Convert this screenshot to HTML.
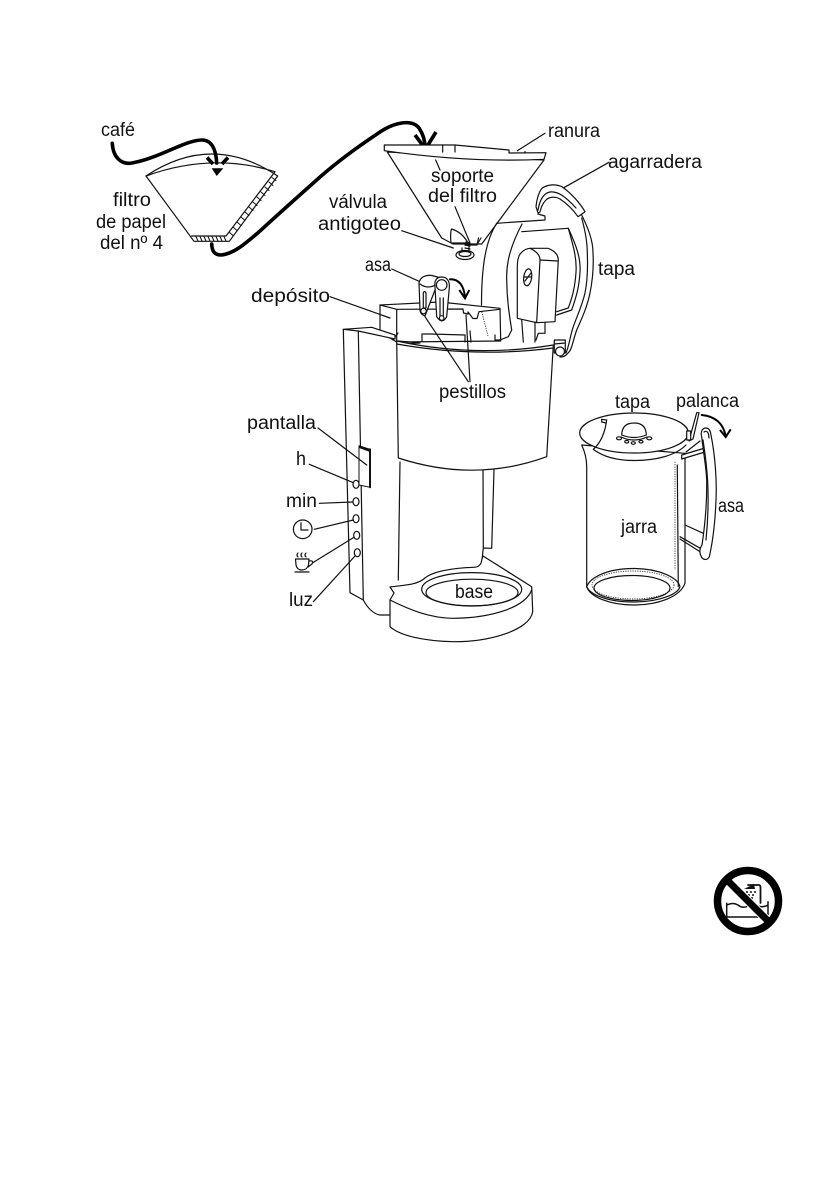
<!DOCTYPE html>
<html><head><meta charset="utf-8"><style>
html,body{margin:0;padding:0;background:#fff}
svg{display:block}
text{font-family:"Liberation Sans",sans-serif;font-size:19px;fill:#111}
.l{fill:none;stroke:#111;stroke-width:1.2;stroke-linejoin:round;stroke-linecap:round}
.w{fill:#fff;stroke:#111;stroke-width:1.2;stroke-linejoin:round}
.t{stroke-width:3.6;fill:none;stroke:#000;stroke-linecap:round;stroke-linejoin:miter}
.d{fill:none;stroke:#333;stroke-width:.9;stroke-dasharray:1.2 1.2}
</style></head><body>
<svg width="840" height="1192" viewBox="0 0 840 1192" xmlns="http://www.w3.org/2000/svg">
<rect width="840" height="1192" fill="#fff"/>

<!-- paper filter -->
<path class="w" d="M146 176Q212 132 277.700 176L229.300 241.300L194 241.300Z"/>
<path class="l" d="M146 176Q212 152 275 171.700M191.700 236L226 236L275 171.700"/>
<g class="l" style="stroke-width:1">
<path d="M196 236.500L198 241M200 236.500L202 241M204 236.500L206 241M208 236.500L210 241M212 236.500L214 241M216 236.500L218 241M220 236.500L222 241M224 236.500L226 241"/>
<path d="M229 232L233 235.500M233 227L237 230.500M237 222L241 225.500M241 217L245 220.500M245 212L249 215.500M249 207L253 210.500M253 202L257 205.500M257 197L261 200.500M261 192L265 195.500M265 187L269 190.500M269 182L273 185.500M272 177.500L276 180.500"/>
</g>
<path d="M211.700 168.300L223.300 168.300L216.700 176Z" fill="#000"/>
<path class="t" style="stroke-linecap:butt" d="M207 157.500L213 164M228 157.500L222 164"/>
<path class="t" d="M112.300 143.300C113 157 121 165 132 163C160 158 185 140 202 140C212 140 216 150 216.700 163"/>
<path class="t" d="M211.700 244C212 252 215 255 221 255C234 254 246 243 260 231C285 208 300 195 320 177C345 155 368 140 380 132C395 122 412 119 419 128C423 134 425 141 425 147"/>
<path class="t" style="stroke-linecap:butt" d="M415 135L425.500 149L436 132"/>

<!-- filter holder -->
<path class="w" d="M387.300 152L441.700 238L453 244L481.700 244L544 160Z"/>
<path class="w" d="M384.300 145L455 145L509 150L509 153L546 152.700L544 159.300Q470 163 384.300 150.700Z"/>
<path class="l" d="M442.700 145L442.700 152M455 145L455 152M525 151.500L525 153"/>
<path class="w" d="M451 243Q450 233 451.500 229Q462 232 468 243Z"/>
<path class="l" d="M465 245L477 245M477 245L478.500 238M478 243L481 238"/>
<path class="l" d="M466 242L470 243M465 245L470 246M465 248L470 249"/>
<ellipse class="w" cx="465" cy="255" rx="9" ry="4.500"/>
<ellipse class="l" cx="465" cy="254" rx="6" ry="2.500"/>
<path class="l" d="M462 248L462 252M469 246L469 252"/>
<path class="l" d="M435.700 160L440 170M455 206.700L470 243M401.700 230.700L453.300 248M545 133.300L517.300 150.700M609 162.300L562.700 188.300M391.700 269L420 281.700"/>

<!-- lid (tapa) -->
<path class="l" d="M496.700 223.300L545 220L545 216L538 214"/>
<path class="l" d="M496.700 223.300C486 240 481.500 265 481.500 305"/>
<path class="l" d="M522 224C511 245 506 262 506.700 280C507 300 509 313 511.700 330L508.300 336.700L500 340"/>
<path class="l" d="M521.700 231.700L568.300 228.300C576 245 581 258 580 272C579 290 575 300 571.700 310L556.700 315"/>
<path class="l" d="M568.300 228.300C573 245 577 258 576 272C575 288 572 298 568.300 308L556.700 311.700"/>
<path class="w" d="M517.300 318.300L517.300 266.700Q517.500 256 521 253Q525 248.300 531 248.300L548 248.300Q558 252 558.300 260L555 321.700L536.700 322.700Z"/>
<path class="l" d="M536.700 322L540 260Q540 253 530 248.300M540 260L558 261"/>
<ellipse class="l" cx="527.700" cy="277.300" rx="4" ry="8.500" transform="rotate(8 527.700 277.300)"/>
<path class="l" d="M525 281L531 273M524 277L531 277"/>
<path class="l" d="M521.700 320L523.300 342M535 322L535 342M545 322.700L545 333.300L538.300 333.300L536 340"/>
<path class="w" d="M536 206.700C537 198 539 192 542 188.300C548 184 556 184 562 186.700C571 193 580 203 585 211.700L578 216.700C572 208 566 203 560 199C555 196 549 197 546 200C542 204 541 208 540 212L538 213Z"/>
<path class="l" d="M538 210C540 199 544 193 550 192C558 191 566 197 576 208"/>
<path class="l" d="M581.700 215C588 228 593 240 593 253C594 270 592 283 590 293C587 308 581 320 576.700 330C573 340 572 350 568 353C565 357 562 357 560 357"/>
<path class="l" d="M581.700 218C585 230 587.300 242 587.300 253C588 270 587 283 585 293C582 306 577 316 573.300 326.700C570 336 569 347 566 352.700"/>
<rect class="w" x="554.300" y="340" width="11" height="13"/>
<circle class="w" cx="560" cy="351.500" r="4.500"/>
<path class="l" d="M554.300 344L565 343"/>

<!-- tank -->
<path class="w" d="M380 305L440 302L500 308.300L500.700 341L396.700 342L380 332Z"/>
<path class="l" d="M380 305L396.700 309.300L396.700 341M396.700 309.300L463 309L463.500 313L468 314L468 312L473 318.500L477 318.500L479 311.700L500 309.300"/>
<path class="d" d="M481.700 311.700L488 336"/>
<path class="l" d="M393 340L398 333M422 334L422 341M430 334L465 335L465 342M470 331L471 342M423 334L430 334M495 335L495 340L500 340"/>
<path class="w" d="M398 341L420 343L398 344Z"/>

<!-- body left column -->
<path class="w" d="M343.300 329.300L371.700 327.300L395 335L395 339L358.300 331L363.300 600L350 592.700Z"/>
<path class="l" d="M343.300 329.300L358.300 331"/>
<path class="l" d="M363.300 600C367 607 373 614 380 615L390 615"/>

<!-- pedestal and back -->
<path class="l" d="M400 462L398.300 580M483 469L483.300 548L491.700 548.300L494 469.300M483.300 548L482 560"/>

<!-- cup -->
<path class="w" d="M396.700 341Q475 358 553.300 345L546.700 456.700Q475 483 398.300 458Z"/>
<path class="l" d="M396.700 344Q475 358 553.300 348"/>

<!-- base -->
<path class="w" d="M390 587C405 585 417 585 425 578C432 572 450 568 474 567.300Q481 567 481.700 560L483 556L531.700 586.700L532.700 611.700C530 630 490 642 453 641.700C425 641 400 636 390 626.700L390 600L394 593Z"/>
<path class="l" d="M390 600C410 610 430 618 453 618.300C490 618 525 608 531.700 590"/>
<ellipse class="l" cx="471.700" cy="589.300" rx="50" ry="16.700"/>
<ellipse class="l" cx="472" cy="592.500" rx="46" ry="13.300"/>

<!-- pointer lines -->
<path class="l" d="M425 316.700L468.300 381.700M466 315L470 381.700M330 296.700L390 318"/>

<!-- lever handles -->
<path class="w" d="M419 283C420 277 426 274.500 432 275.500L441 278L435 290L428 308L425 316Q420 314 420 310Z"/>
<path class="l" d="M420 284Q428 290 437 284"/>
<path class="l" d="M423.300 293L423.300 308L426 308L426 293Q424.500 290 423.300 293Z"/>
<circle class="l" cx="423.500" cy="311" r="2.800"/>
<path class="w" d="M435 287C434 280 437 277 441.700 277C447 277 450 281 449.300 288L446.700 316.700Q442 325 436.700 316.700Z"/>
<circle class="l" cx="441.700" cy="285" r="5.300"/>
<path class="l" d="M440 298L440 316M443.300 298L443.300 316"/>
<circle class="l" cx="441.700" cy="318" r="2.300"/>
<path class="t" style="stroke-width:2" d="M450 279.300Q463 279 465 297"/>
<path class="t" style="stroke-width:2;stroke-linecap:butt" d="M459.300 290L465 298.300L469.300 290"/>

<!-- buttons and display -->
<path class="w" d="M359 445.700L370 449.300L370 487.300L359 485Z" style="stroke-width:1"/>
<path d="M359 445.700L370 449.300L370 452L359 448Z" fill="#111"/>
<path class="l" style="stroke-width:2" d="M370 449.300L370 487.300"/>
<ellipse class="l" cx="356" cy="484.300" rx="3" ry="4"/>
<ellipse class="l" cx="356" cy="501.700" rx="3" ry="4"/>
<ellipse class="l" cx="356" cy="518.700" rx="3" ry="4"/>
<ellipse class="l" cx="356.700" cy="535.300" rx="3" ry="4"/>
<ellipse class="l" cx="357.300" cy="552.700" rx="3" ry="4"/>
<path class="l" d="M318 428L366.700 465M309.300 464.300L353.300 482.700M319.300 503.300L352.700 502M314.300 529.300L353.300 520M312.700 562.700L354 537.300M313.300 601.700L355 556"/>
<circle class="l" cx="302.700" cy="529.300" r="9.300"/>
<path class="l" d="M301 522.700L301 530L308 530"/>
<path class="l" d="M295.500 559L309 559L308.500 565Q307 570 302 570Q297 570 296 565ZM309 561Q314 560 312 564L308 567M295 572L309 572M298 553Q296 555 298 557M302 553Q300 555 302 557M306 553Q304 555 306 557"/>

<!-- jug -->
<path class="w" d="M581.700 445C585 452 586.700 458 586.700 467L586.700 586.700C590 597 610 605 633.300 605C658 605 680 597 685 583.300L685 453.300Z"/>
<path class="l" d="M677.300 465L678.300 586.700"/>
<path class="d" d="M675 461.700L675 570"/>
<path class="l" d="M586.700 586.700C590 578 606 568.500 633.300 568.500C660 568.500 678 578 680 586.700C678 594 660 602 633.300 602C606 602 590 594 586.700 586.700Z"/>
<ellipse class="d" cx="633" cy="585" rx="41" ry="14"/>
<ellipse class="l" cx="632" cy="588" rx="38" ry="12.500"/>
<path class="w" d="M681.700 455L708.300 447L708.300 451L681.700 459Z"/>
<path class="l" d="M685 525L703.300 533.300M680 536.700L702 549.300M680 539L702 553"/>
<path class="w" d="M701.700 436.700C700 431 703 428 706 428C709 428 710.500 431 711 435C715 455 717 480 716 500C715 525 712 545 709.300 556.700C708 560 703 561 701 556C699 552 700 548 702 545C705 525 707 500 706.700 480C706 465 703 450 701.700 436.700Z"/>
<path class="l" d="M704 432Q707 430 708.500 434L709 438M703 440C706 460 711 490 706 540"/>
<ellipse class="w" cx="634" cy="433" rx="54.300" ry="20"/>
<path class="l" d="M593.500 449.500C605 458 620 460.500 634 460.500C655 460.500 675 456 686 445"/>
<path class="l" d="M601.700 419.300L606.700 420Q604 440 593.300 449.300"/>
<path class="l" d="M601.700 419.300L601.700 422L606 423"/>
<path class="w" d="M621.700 435Q622 423 634 423Q646 423 646.300 435Q634 440 621.700 435Z"/>
<path class="l" d="M621 437Q634 443 647 437"/>
<ellipse class="l" cx="619" cy="438.300" rx="2.500" ry="1.500"/>
<ellipse class="l" cx="649.300" cy="438.300" rx="2.500" ry="1.500"/>
<ellipse class="l" cx="626.700" cy="441.700" rx="2" ry="1.300"/>
<ellipse class="l" cx="633.300" cy="443" rx="2" ry="1.300"/>
<ellipse class="l" cx="641" cy="441.700" rx="2" ry="1.300"/>
<path class="w" d="M696.700 412.700L699 412.700L693 439L689 441Z"/>
<rect class="w" x="686.700" y="431" width="4" height="9"/>
<path class="l" d="M686 452L700 441"/>
<path class="t" style="stroke-width:2" d="M701.700 415Q722 417 725.700 436"/>
<path class="t" style="stroke-width:2;stroke-linecap:butt" d="M720 430L725.700 437L730.700 429.300"/>

<!-- prohibition -->
<path class="l" style="stroke-width:1.500" d="M726.700 903.300L726.700 917L768 917L768 901.700M727 905Q733 902 738 905Q743 909 748 906Q753 902 758 906Q763 908 768 905"/>
<path class="l" style="stroke-width:1.800" d="M748 885L759 885Q760.500 885 760.500 888L760.500 903"/>
<path d="M744 889L754 884L755 889Z" fill="#111"/>
<path d="M746 892L748 892M750 892L752 892M748 895L750 895M752 895L754 895M751 898L753 898M754 892L756 892" stroke="#111" stroke-width="1.600" fill="none"/>
<line x1="724" y1="877" x2="772" y2="925" stroke="#fff" stroke-width="9"/>
<line x1="724" y1="877" x2="772" y2="925" stroke="#000" stroke-width="7"/>
<circle cx="748" cy="901" r="30.500" fill="none" stroke="#000" stroke-width="7.500"/>

<!-- labels -->
<text x="101" y="136" textLength="34" lengthAdjust="spacingAndGlyphs">café</text>
<text x="113" y="206" textLength="38" lengthAdjust="spacingAndGlyphs">filtro</text>
<text x="96" y="228" textLength="70" lengthAdjust="spacingAndGlyphs">de papel</text>
<text x="100" y="249" textLength="63" lengthAdjust="spacingAndGlyphs">del nº 4</text>
<text x="431" y="182" textLength="63" lengthAdjust="spacingAndGlyphs">soporte</text>
<text x="428" y="202" textLength="69" lengthAdjust="spacingAndGlyphs">del filtro</text>
<text x="329" y="208" textLength="58" lengthAdjust="spacingAndGlyphs">válvula</text>
<text x="318" y="230" textLength="83" lengthAdjust="spacingAndGlyphs">antigoteo</text>
<text x="548" y="137" textLength="52" lengthAdjust="spacingAndGlyphs">ranura</text>
<text x="608" y="168" textLength="94" lengthAdjust="spacingAndGlyphs">agarradera</text>
<text x="598" y="275" textLength="37" lengthAdjust="spacingAndGlyphs">tapa</text>
<text x="365" y="271" textLength="26" lengthAdjust="spacingAndGlyphs">asa</text>
<text x="251" y="302" textLength="79" lengthAdjust="spacingAndGlyphs">depósito</text>
<text x="439" y="398" textLength="67" lengthAdjust="spacingAndGlyphs">pestillos</text>
<text x="247" y="429" textLength="69" lengthAdjust="spacingAndGlyphs">pantalla</text>
<text x="296" y="465" textLength="10" lengthAdjust="spacingAndGlyphs">h</text>
<text x="286" y="507" textLength="31" lengthAdjust="spacingAndGlyphs">min</text>
<text x="289" y="606" textLength="24" lengthAdjust="spacingAndGlyphs">luz</text>
<text x="455" y="598" textLength="38" lengthAdjust="spacingAndGlyphs">base</text>
<text x="615" y="408" textLength="35" lengthAdjust="spacingAndGlyphs">tapa</text>
<text x="676" y="407" textLength="63" lengthAdjust="spacingAndGlyphs">palanca</text>
<text x="718" y="512" textLength="26" lengthAdjust="spacingAndGlyphs">asa</text>
<text x="621" y="533" textLength="36" lengthAdjust="spacingAndGlyphs">jarra</text>
</svg>
</body></html>
